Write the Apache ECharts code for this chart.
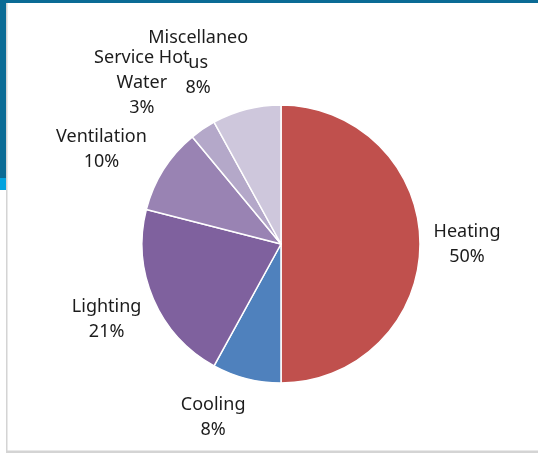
<!DOCTYPE html>
<html>
<head>
<meta charset="utf-8">
<script src="https://cdn.jsdelivr.net/npm/echarts@6/dist/echarts.min.js"></script>
<style>
  html, body { margin: 0; padding: 0; background: #fff; }
  #chart { width: 538px; height: 453px; }
</style>
</head>
<body>
<div id="chart"></div>
<script>
// Building energy end-use shares (percent), drawn clockwise from 12 o'clock
var categories = ['Heating', 'Cooling', 'Lighting', 'Ventilation', 'Service Hot\nWater', 'Miscellaneo\nus'];
var shares = [50, 8, 21, 10, 3, 8];
var sliceColors = ['#c0504d', '#4f81bd', '#7f619e', '#9983b3', '#b4a8c9', '#cec7dc'];

// Label placement around the pie: radial distance (px) and angular nudge (deg)
var labelRadius = [186, 186, 190, 203, 213, 199];
var labelTurn = [0, 7, 0, -4.6, -6.6, -10.2];

var CX = 281, CY = 244, R = 139;

var total = shares.reduce(function (a, b) { return a + b; }, 0);
function midAngle(i) {
  var before = 0;
  for (var k = 0; k < i; k++) before += shares[k];
  return (before + shares[i] / 2) / total * 360;
}

var chart = echarts.init(document.getElementById('chart'), null, { renderer: 'canvas' });

chart.setOption({
  backgroundColor: '#ffffff',
  animation: false,
  graphic: [
    // page frame: dark top strip, left accent bar and grey panel edges
    { type: 'rect', shape: { x: 0, y: 0, width: 538, height: 3 }, style: { fill: '#0b6b95' }, silent: true },
    { type: 'rect', shape: { x: 0, y: 0, width: 6, height: 178 }, style: { fill: '#0b6b95' }, silent: true },
    { type: 'rect', shape: { x: 0, y: 178, width: 6, height: 12 }, style: { fill: '#03a3df' }, silent: true },
    { type: 'rect', shape: { x: 6, y: 3, width: 1.5, height: 449 }, style: { fill: '#d4d4d4' }, silent: true },
    { type: 'rect', shape: { x: 6, y: 450.5, width: 532, height: 2.5 }, style: { fill: '#d4d4d4' }, silent: true }
  ],
  series: [{
    type: 'pie',
    center: [CX, CY],
    radius: R,
    startAngle: 90,
    clockwise: true,
    avoidLabelOverlap: false,
    silent: true,
    itemStyle: { borderColor: '#ffffff', borderWidth: 1.5 },
    label: {
      show: true,
      position: 'outside',
      fontFamily: 'Noto Sans',
      fontSize: 18,
      lineHeight: 25,
      color: '#1c1c1c',
      align: 'center',
      formatter: function (p) { return p.name + '\n' + p.value + '%'; }
    },
    labelLine: { show: false },
    labelLayout: function (params) {
      var i = params.dataIndex;
      var a = (midAngle(i) + labelTurn[i]) * Math.PI / 180;
      return {
        x: CX + labelRadius[i] * Math.sin(a),
        y: CY - labelRadius[i] * Math.cos(a),
        align: 'center',
        verticalAlign: 'middle'
      };
    },
    data: categories.map(function (name, i) {
      return { name: name, value: shares[i], itemStyle: { color: sliceColors[i] } };
    })
  }]
});
</script>
</body>
</html>
